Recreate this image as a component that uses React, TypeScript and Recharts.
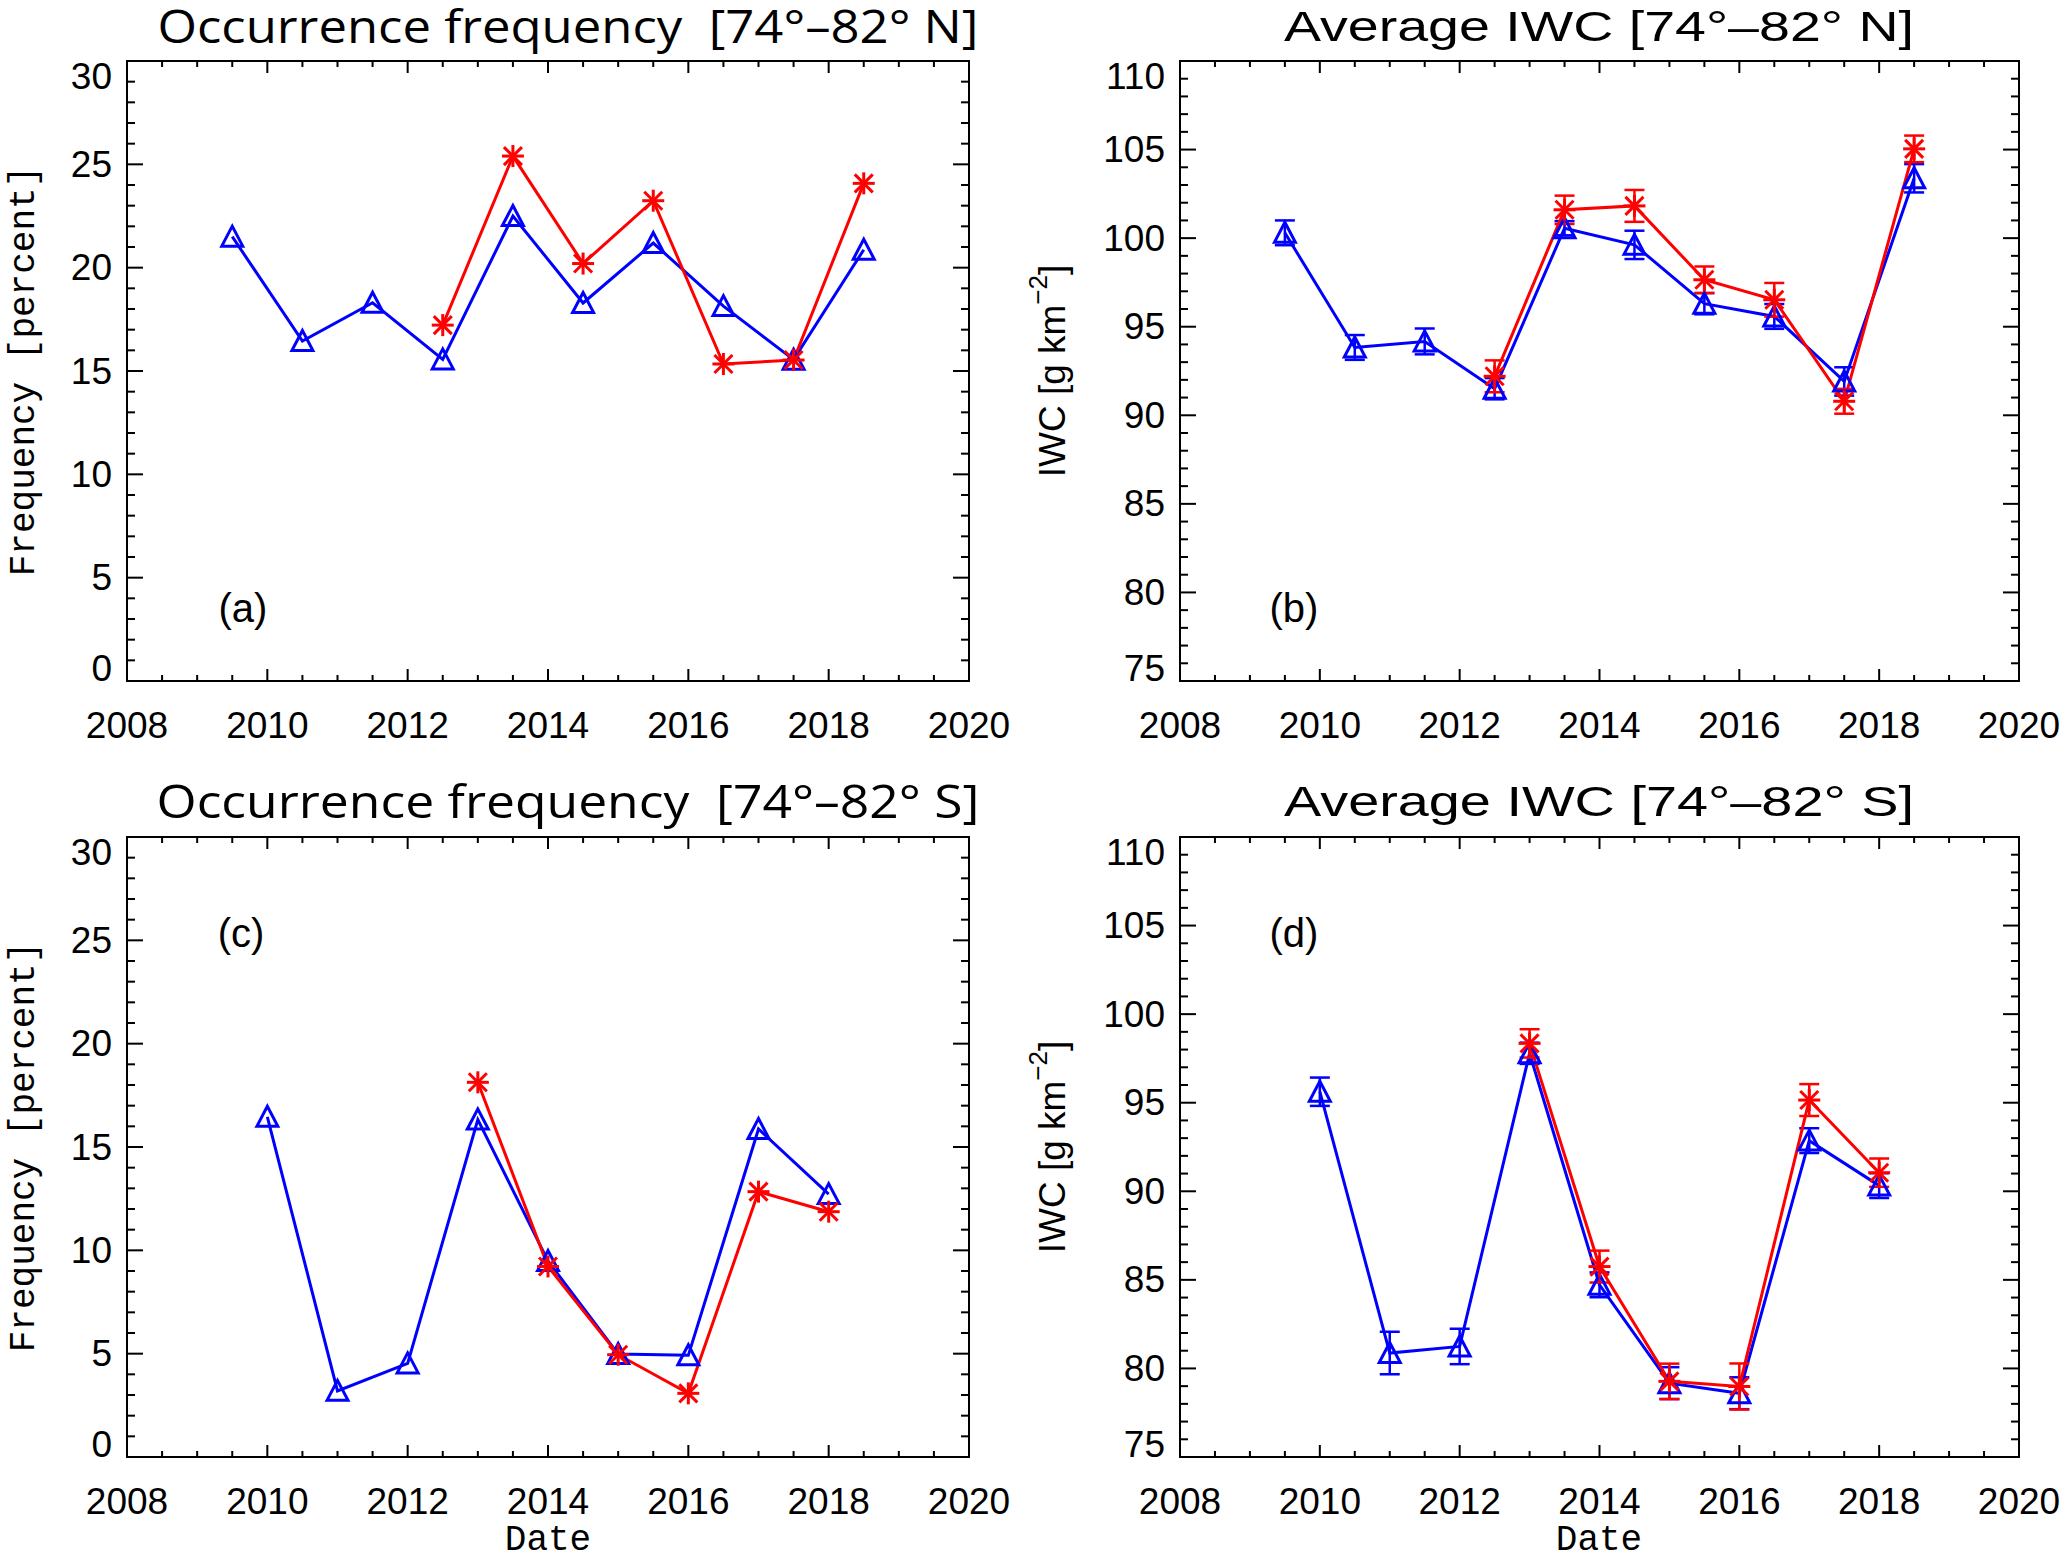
import React from 'react';
import { LineChart, Line, XAxis, YAxis, ErrorBar, ReferenceArea } from 'recharts';

// years of each seasonal value
const yearsNorth = [2009.5, 2010.5, 2011.5, 2012.5, 2013.5, 2014.5, 2015.5, 2016.5, 2017.5, 2018.5];
const yearsSouth = [2010, 2011, 2012, 2013, 2014, 2015, 2016, 2017, 2018];

// (a) occurrence frequency, 74-82 N
const freqNorthBlue = [21.5, 16.45, 18.3, 15.56, 22.5, 18.29, 21.19, 18.14, 15.55, 20.87];
const freqNorthRed = [null, null, null, 17.22, 25.4, 20.2, 23.24, 15.34, 15.53, 24.08];

// (b) average IWC, 74-82 N
const iwcNorthBlue = [100.3, 93.83, 94.17, 91.5, 100.56, 99.62, 96.3, 95.58, 91.91, 103.38];
const iwcNorthBlueErr = [0.7, 0.7, 0.73, 0.6, 0.4, 0.8, 0.6, 0.7, 0.8, 0.8];
const iwcNorthRed = [null, null, null, 92.2, 101.6, 101.82, 97.65, 96.52, 90.79, 105.04];
const iwcNorthRedErr = [null, null, null, 0.9, 0.8, 0.9, 0.75, 0.95, 0.7, 0.75];

// (c) occurrence frequency, 74-82 S
const freqSouthBlue = [16.46, 3.2, 4.53, 16.33, 9.48, 4.98, 4.92, 15.87, 12.72];
const freqSouthRed = [null, null, null, 18.13, 9.22, 4.95, 3.08, 12.84, 11.87];

// (d) average IWC, 74-82 S
const iwcSouthBlue = [95.62, 80.87, 81.24, 97.79, 84.72, 79.17, 78.6, 92.86, 90.32];
const iwcSouthBlueErr = [0.8, 1.2, 1.0, 0.6, 0.7, 0.9, 0.9, 0.7, 0.7];
const iwcSouthRed = [null, null, null, 98.35, 85.75, 79.27, 78.98, 95.15, 91.05];
const iwcSouthRedErr = [null, null, null, 0.8, 0.9, 1.0, 1.3, 0.9, 0.8];

// axis ticks
const xMajorTicks = [2008, 2010, 2012, 2014, 2016, 2018, 2020];
const xMinorStep = 0.5;
const freqMajorTicks = [0, 5, 10, 15, 20, 25, 30];
const iwcMajorTicks = [75, 80, 85, 90, 95, 100, 105, 110];
const yMinorStep = 1;

const BLUE = '#0000ff';
const RED = '#ff0000';
const TICK_FONT = '"Liberation Sans", Arial, sans-serif';
const MONO = '"Liberation Mono", "Courier New", monospace';

function withMinors(majors: number[], step: number) {
  const out: number[] = [];
  for (let i = 0; i < majors.length - 1; i++) {
    for (let v = majors[i]; v < majors[i + 1] - 1e-9; v += step) out.push(+v.toFixed(3));
  }
  out.push(majors[majors.length - 1]);
  return out;
}

function buildRows(years: number[], blue: any[], red: any[], blueErr?: any[], redErr?: any[]) {
  return years.map((year, i) => ({
    year,
    blue: blue[i],
    red: red[i],
    blueErr: blueErr ? blueErr[i] : null,
    redErr: redErr ? redErr[i] : null,
  }));
}

const triangleDot = (props: any) => {
  const { cx, cy, index, value } = props;
  if (cx == null || cy == null || value == null) return <g key={`t${index}`} />;
  return (
    <path
      key={`t${index}`}
      d={`M${cx - 10.5},${cy + 9.5} L${cx},${cy - 10.5} L${cx + 10.5},${cy + 9.5} Z`}
      fill="none"
      stroke={BLUE}
      strokeWidth={3}
    />
  );
};

const asteriskDot = (props: any) => {
  const { cx, cy, index, value } = props;
  if (cx == null || cy == null || value == null) return <g key={`s${index}`} />;
  const r = 11;
  const d = 9;
  return (
    <g key={`s${index}`} stroke={RED} strokeWidth={3}>
      <line x1={cx} y1={cy - r} x2={cx} y2={cy + r} />
      <line x1={cx - r} y1={cy} x2={cx + r} y2={cy} />
      <line x1={cx - d} y1={cy - d} x2={cx + d} y2={cy + d} />
      <line x1={cx - d} y1={cy + d} x2={cx + d} y2={cy - d} />
    </g>
  );
};

interface PanelProps {
  left: number;
  top: number;
  boxW: number;
  boxH: number;
  rows: any[];
  yMajors: number[];
  errors?: boolean;
}

function Panel({ left, top, boxW, boxH, rows, yMajors, errors }: PanelProps) {
  const yDomain = [yMajors[0], yMajors[yMajors.length - 1]];
  const yTicks = withMinors(yMajors, yMinorStep);
  const xTicks = withMinors(xMajorTicks, xMinorStep);

  const renderYTick = (props: any) => {
    const { x, y, payload, index } = props;
    const v = payload.value;
    const major = yMajors.includes(v);
    const len = major ? 16 : 8;
    let dy = 0;
    if (v === yDomain[1]) dy = 15;
    if (v === yDomain[0]) dy = -13;
    return (
      <g key={`y${index}`}>
        <line x1={x} x2={x + len} y1={y} y2={y} stroke="#000" strokeWidth={2} />
        <line x1={x + boxW} x2={x + boxW - len} y1={y} y2={y} stroke="#000" strokeWidth={2} />
        {major && (
          <text x={x - 15} y={y + dy} textAnchor="end" dominantBaseline="central"
            fontFamily={TICK_FONT} fontSize={37} fill="#000">
            {v}
          </text>
        )}
      </g>
    );
  };

  const renderXTick = (props: any) => {
    const { x, y, payload, index } = props;
    const v = payload.value;
    const major = xMajorTicks.includes(v);
    const len = major ? 12 : 6;
    return (
      <g key={`x${index}`}>
        <line x1={x} x2={x} y1={y} y2={y - len} stroke="#000" strokeWidth={2} />
        <line x1={x} x2={x} y1={y - boxH} y2={y - boxH + len} stroke="#000" strokeWidth={2} />
        {major && (
          <text x={x} y={y + 44} textAnchor="middle" dominantBaseline="central"
            fontFamily={TICK_FONT} fontSize={37} fill="#000">
            {v}
          </text>
        )}
      </g>
    );
  };

  return (
    <div style={{ position: 'absolute', left: left - 120, top: top - 20 }}>
      <LineChart
        width={boxW + 180}
        height={boxH + 100}
        data={rows}
        margin={{ top: 20, right: 60, left: 0, bottom: 0 }}
      >
        <XAxis
          type="number"
          dataKey="year"
          domain={[2008, 2020]}
          ticks={xTicks}
          interval={0}
          height={80}
          tickSize={0}
          tickMargin={0}
          tickLine={false}
          axisLine={false}
          tick={renderXTick}
          allowDataOverflow
        />
        <YAxis
          type="number"
          domain={yDomain}
          ticks={yTicks}
          interval={0}
          width={120}
          tickSize={0}
          tickMargin={0}
          tickLine={false}
          axisLine={false}
          tick={renderYTick}
          allowDataOverflow
        />
        <ReferenceArea
          x1={2008}
          x2={2020}
          y1={yDomain[0]}
          y2={yDomain[1]}
          fill="none"
          fillOpacity={0}
          stroke="#000"
          strokeWidth={2}
        />
        <Line
          type="linear"
          dataKey="blue"
          stroke={BLUE}
          strokeWidth={3}
          dot={triangleDot}
          activeDot={false}
          isAnimationActive={false}
        >
          {errors && <ErrorBar dataKey="blueErr" direction="y" width={10} stroke={BLUE} strokeWidth={2.5} />}
        </Line>
        <Line
          type="linear"
          dataKey="red"
          stroke={RED}
          strokeWidth={3}
          dot={asteriskDot}
          activeDot={false}
          isAnimationActive={false}
        >
          {errors && <ErrorBar dataKey="redErr" direction="y" width={10} stroke={RED} strokeWidth={2.5} />}
        </Line>
      </LineChart>
    </div>
  );
}

export default function App() {
  const rowsA = buildRows(yearsNorth, freqNorthBlue, freqNorthRed);
  const rowsB = buildRows(yearsNorth, iwcNorthBlue, iwcNorthRed, iwcNorthBlueErr, iwcNorthRedErr);
  const rowsC = buildRows(yearsSouth, freqSouthBlue, freqSouthRed);
  const rowsD = buildRows(yearsSouth, iwcSouthBlue, iwcSouthRed, iwcSouthBlueErr, iwcSouthRedErr);

  const iwcLabel = (cx: number, cy: number) => (
    <text
      transform={`translate(${cx},${cy}) rotate(-90)`}
      textAnchor="middle"
      dominantBaseline="central"
      fontFamily={TICK_FONT}
      fontSize={37}
      fill="#000"
      style={{ whiteSpace: 'pre' }}
    >
      <tspan>IWC [g km</tspan>
      <tspan dy={-14} fontSize={26}>−2</tspan>
      <tspan dy={14}>]</tspan>
    </text>
  );

  return (
    <div style={{ position: 'absolute', left: 0, top: 0, width: 2067, height: 1562, background: '#fff' }}>
      <Panel left={127} top={61} boxW={842} boxH={620} rows={rowsA} yMajors={freqMajorTicks} />
      <Panel left={1180} top={61} boxW={839} boxH={620} rows={rowsB} yMajors={iwcMajorTicks} errors />
      <Panel left={127} top={837} boxW={842} boxH={620} rows={rowsC} yMajors={freqMajorTicks} />
      <Panel left={1180} top={837} boxW={839} boxH={620} rows={rowsD} yMajors={iwcMajorTicks} errors />

      <svg width={2067} height={1562} style={{ position: 'absolute', left: 0, top: 0, pointerEvents: 'none' }}>
        {/* titles */}
        <text x={568} y={43} textAnchor="middle" fontFamily='"Open Sans", sans-serif' fontSize={45}
          textLength={821} lengthAdjust="spacingAndGlyphs" style={{ whiteSpace: 'pre' }}>
          Occurrence frequency  [74°–82° N]
        </text>
        <text x={1599} y={41} textAnchor="middle" fontFamily={TICK_FONT} fontSize={42}
          textLength={630} lengthAdjust="spacingAndGlyphs">
          Average IWC [74°–82° N]
        </text>
        <text x={568} y={818} textAnchor="middle" fontFamily='"Open Sans", sans-serif' fontSize={45}
          textLength={823} lengthAdjust="spacingAndGlyphs" style={{ whiteSpace: 'pre' }}>
          Occurrence frequency  [74°–82° S]
        </text>
        <text x={1599} y={816} textAnchor="middle" fontFamily={TICK_FONT} fontSize={42}
          textLength={630} lengthAdjust="spacingAndGlyphs">
          Average IWC [74°–82° S]
        </text>

        {/* y axis titles */}
        <text transform="translate(24,371) rotate(-90)" textAnchor="middle" dominantBaseline="central"
          fontFamily={MONO} fontSize={36} fill="#000" style={{ whiteSpace: 'pre' }}>
          Frequency [percent]
        </text>
        <text transform="translate(24,1147) rotate(-90)" textAnchor="middle" dominantBaseline="central"
          fontFamily={MONO} fontSize={36} fill="#000" style={{ whiteSpace: 'pre' }}>
          Frequency [percent]
        </text>
        {iwcLabel(1052, 371)}
        {iwcLabel(1052, 1147)}

        {/* x axis titles */}
        <text x={548} y={1540} textAnchor="middle" dominantBaseline="central" fontFamily={MONO} fontSize={36}>
          Date
        </text>
        <text x={1599} y={1540} textAnchor="middle" dominantBaseline="central" fontFamily={MONO} fontSize={36}>
          Date
        </text>

        {/* panel letters */}
        <text x={243} y={608} textAnchor="middle" dominantBaseline="central" fontFamily={TICK_FONT} fontSize={40}>(a)</text>
        <text x={1294} y={608} textAnchor="middle" dominantBaseline="central" fontFamily={TICK_FONT} fontSize={40}>(b)</text>
        <text x={241} y={933} textAnchor="middle" dominantBaseline="central" fontFamily={TICK_FONT} fontSize={40}>(c)</text>
        <text x={1294} y={933} textAnchor="middle" dominantBaseline="central" fontFamily={TICK_FONT} fontSize={40}>(d)</text>
      </svg>
    </div>
  );
}
